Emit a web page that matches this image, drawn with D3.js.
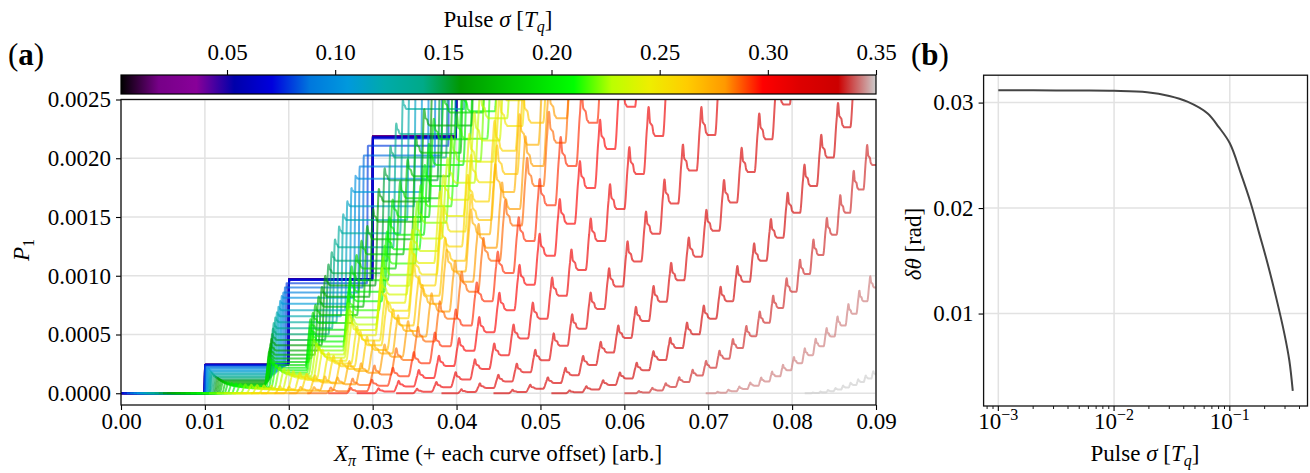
<!DOCTYPE html>
<html>
<head>
<meta charset="utf-8">
<script src="https://cdn.jsdelivr.net/npm/d3@7"></script>
<style>
  html, body { margin: 0; padding: 0; background: #fff; }
  svg text { font-family: "Liberation Serif", "Times New Roman", serif; fill: #000; }
</style>
</head>
<body>
<svg id="fig" width="1310" height="473"></svg>
<script>
// ---------------- data: panel (a), one entry per simulated pulse width ----------------
const pulseSigma = [0.0010,0.0081,0.0152,0.0224,0.0295,0.0366,0.0437,0.0509,0.0580,0.0651,
  0.0722,0.0793,0.0865,0.0936,0.1007,0.1078,0.1150,0.1221,0.1292,0.1363,
  0.1434,0.1506,0.1577,0.1648,0.1719,0.1791,0.1862,0.1933,0.2004,0.2075,
  0.2147,0.2218,0.2289,0.2360,0.2432,0.2503,0.2574,0.2645,0.2716,0.2788,
  0.2859,0.2930,0.3001,0.3073,0.3144,0.3215,0.3286,0.3357,0.3429,0.3500];
// leakage angle added coherently by each pulse [rad]
const pulseAngle = [0.03120,0.03120,0.03119,0.03118,0.03117,0.03117,0.03116,0.03115,0.03113,0.03110,
  0.03105,0.0306,0.0300,0.0293,0.0285,0.0276,0.0266,0.0256,0.0246,0.0235,
  0.0224,0.0213,0.0202,0.0191,0.0181,0.0172,0.0163,0.0155,0.0147,0.0140,
  0.0133,0.0127,0.0121,0.0116,0.0111,0.0106,0.0101,0.0096,0.0092,0.0088,
  0.0084,0.0080,0.0076,0.0072,0.0067,0.0062,0.0056,0.0049,0.0040,0.0028];
// spacing between consecutive pulses on the time axis
const pulsePeriod = [0.0100,0.0100,0.0100,0.0100,0.0100,0.0100,0.0100,0.0100,0.0100,0.0100,
  0.0100,0.0097,0.0094,0.0091,0.0088,0.0085,0.0082,0.0079,0.0076,0.0073,
  0.0070,0.0067,0.0064,0.0061,0.0058,0.0055,0.0052,0.0049,0.0047,0.0045,
  0.0043,0.0041,0.0039,0.0037,0.0035,0.0034,0.0032,0.0031,0.0029,0.0028,
  0.0026,0.0025,0.0024,0.0023,0.0022,0.0021,0.0020,0.0016,0.0013,0.0009];
// centre of the first pulse (includes the per-curve offset)
const firstPulse = [0.0100,0.0100,0.0100,0.0100,0.0100,0.0100,0.0100,0.0100,0.0100,0.0100,
  0.0100,0.0100,0.0101,0.0102,0.0103,0.0104,0.0105,0.0106,0.0107,0.0108,
  0.0110,0.0112,0.0114,0.0116,0.0118,0.0120,0.0123,0.0126,0.0130,0.0135,
  0.0140,0.0146,0.0153,0.0160,0.0168,0.0177,0.0187,0.0198,0.0212,0.0228,
  0.0248,0.0272,0.0305,0.0351,0.0404,0.0465,0.0533,0.0616,0.0710,0.0824];
// transient overshoot during a pulse, in units of one pulse's angle
const overshoot = [0,0,0,0,0,0,0,0,0,0,
  0,0,0,0,0.02,0.03,0.04,0.05,0.065,0.08,
  0.095,0.11,0.13,0.15,0.17,0.19,0.21,0.24,0.27,0.30,
  0.33,0.36,0.40,0.43,0.47,0.50,0.54,0.57,0.60,0.63,
  0.66,0.68,0.70,0.72,0.74,0.75,0.76,0.77,0.78,0.78];
// duration of the transient on the time axis
const transientWidth = [0.0003,0.0003,0.0003,0.0003,0.0003,0.0003,0.0003,0.0003,0.0003,0.0003,
  0.0003,0.0004,0.0005,0.0006,0.0007,0.0008,0.0009,0.0010,0.0011,0.0012,
  0.0013,0.0014,0.0015,0.0016,0.0017,0.0018,0.0019,0.0020,0.0021,0.0022,
  0.0023,0.0023,0.0024,0.0024,0.0024,0.0024,0.0024,0.0024,0.0023,0.0023,
  0.0022,0.0022,0.0021,0.0020,0.0019,0.0019,0.0018,0.0015,0.0012,0.0008];

// ---------------- data: panel (b) ----------------
const sweepSigma = [0.001,0.002,0.005,0.01,0.0193,0.03,0.043,0.064,0.08,0.1,
  0.1245,0.152,0.1795,0.212,0.2506,0.296,0.3266,0.35];
const sweepDelta = [0.03117,0.03116,0.03114,0.03111,0.03098,0.03063,0.03009,0.02899,0.0277,0.02614,
  0.02329,0.02044,0.0176,0.01475,0.01158,0.0081,0.00557,0.00266];

// ---------------- ticks ----------------
const timeTicks = [0,0.01,0.02,0.03,0.04,0.05,0.06,0.07,0.08,0.09];
const p1Ticks = [0,0.0005,0.0010,0.0015,0.0020,0.0025];
const cbarTicks = [0.05,0.10,0.15,0.20,0.25,0.30,0.35];
const deltaTicks = [0.01,0.02,0.03];
const sigmaDecades = [-3,-2,-1];

// ---------------- nipy_spectral colormap ----------------
const NS_R = [0,0.4667,0.5333,0,0,0,0,0,0,0,0,0,0,0.7333,0.9333,1,1,1,0.8667,0.8,0.8];
const NS_G = [0,0,0,0,0,0.4667,0.6,0.6667,0.6667,0.6,0.7333,0.8667,1,1,0.9333,0.8,0.6,0,0,0,0.8];
const NS_B = [0,0.5333,0.6,0.6667,0.8667,0.8667,0.8667,0.6667,0.5333,0,0,0,0,0,0,0,0,0,0,0,0.8];
function spectral(t) {
  t = Math.max(0, Math.min(1, t));
  const s = t / 0.05, i = Math.min(19, Math.floor(s)), u = s - i;
  const c = a => a[i] + (a[i + 1] - a[i]) * u;
  return d3.rgb(c(NS_R) * 255, c(NS_G) * 255, c(NS_B) * 255).formatHex();
}

const FONT = "Liberation Serif, Times New Roman, serif";
const FS = 23;
const svg = d3.select("#fig");
const GRID = "#e2e2e2";

// ===================== panel (a) =====================
const PA = { left: 121, right: 876, top: 99.5, bottom: 405 };
const xA = d3.scaleLinear().domain([0, 0.09]).range([PA.left, PA.right]);
const yA = d3.scaleLinear().domain([-0.0001, 0.0025]).range([PA.bottom, PA.top]);

const gA = svg.append("g");
gA.append("g").selectAll("line").data(timeTicks).join("line")
  .attr("x1", d => xA(d)).attr("x2", d => xA(d))
  .attr("y1", PA.top).attr("y2", PA.bottom)
  .attr("stroke", GRID).attr("stroke-width", 1.5);
gA.append("g").selectAll("line").data(p1Ticks).join("line")
  .attr("y1", d => yA(d)).attr("y2", d => yA(d))
  .attr("x1", PA.left).attr("x2", PA.right)
  .attr("stroke", GRID).attr("stroke-width", 1.5);

svg.append("defs").append("clipPath").attr("id", "clipA")
  .append("rect").attr("x", PA.left).attr("y", PA.top)
  .attr("width", PA.right - PA.left).attr("height", PA.bottom - PA.top);

// shape of one pulse: smooth step plus a transient bump (peak, shoulder, settle)
function smooth(t) { t = Math.max(0, Math.min(1, t)); return t * t * (3 - 2 * t); }
function ramp(z) { return smooth((z + 0.2) / 0.28); }
const bumpKnots = [[-0.2, 0], [0, 0.55], [0.1, 1], [0.19, 0.45], [0.3, 0.38], [0.4, 0.08], [0.5, 0]];
function bump(z) {
  const last = bumpKnots[bumpKnots.length - 1][0];
  if (z <= bumpKnots[0][0] || z >= last) return 0;
  for (let i = 0; i < bumpKnots.length - 1; i++) {
    const a = bumpKnots[i], b = bumpKnots[i + 1];
    if (z <= b[0]) return a[1] + (b[1] - a[1]) * smooth((z - a[0]) / (b[0] - a[0]));
  }
  return 0;
}

function leakageCurve(k) {
  const p = pulsePeriod[k], f = firstPulse[k], w = transientWidth[k], q = overshoot[k];
  const half = pulseAngle[k] / 2;
  const x0 = Math.max(0, f - p);
  const pts = [];
  const dx = 0.00003;
  for (let x = x0; x <= 0.09 + 1e-9; x += dx) {
    const done = Math.max(0, Math.floor((x - 0.5 * w - f) / p) + 1);
    let amp = done;
    for (let n = done; ; n++) {
      const z = (x - (f + n * p)) / w;
      if (z < -0.2) break;
      amp += ramp(z) + q * bump(z);
    }
    pts.push([x, Math.pow(Math.sin(half * amp), 2)]);
    if (Math.pow(Math.sin(half * done), 2) > 0.0027) break;
  }
  return pts;
}

const lineA = d3.line().x(d => xA(d[0])).y(d => yA(d[1]));
const curvesG = gA.append("g").attr("clip-path", "url(#clipA)");
pulseSigma.forEach((s, k) => {
  curvesG.append("path")
    .attr("d", lineA(leakageCurve(k)))
    .attr("fill", "none")
    .attr("stroke", spectral((s - 0.001) / (0.35 - 0.001)))
    .attr("stroke-opacity", 0.65)
    .attr("stroke-width", 2)
    .attr("stroke-linejoin", "round");
});

function styleAxis(g) {
  g.attr("font-family", FONT).attr("font-size", FS);
  g.select(".domain").remove();
  g.selectAll(".tick line").attr("stroke", "#000").attr("stroke-width", 1.1);
  g.selectAll(".tick text").attr("fill", "#000");
}
gA.append("g").attr("transform", `translate(0,${PA.bottom})`)
  .call(d3.axisBottom(xA).tickValues(timeTicks).tickFormat(d3.format(".2f")).tickSize(5).tickPadding(3))
  .call(styleAxis);
gA.append("g").attr("transform", `translate(${PA.left},0)`)
  .call(d3.axisLeft(yA).tickValues(p1Ticks).tickFormat(d3.format(".4f")).tickSize(5).tickPadding(5))
  .call(styleAxis);
gA.append("rect").attr("x", PA.left).attr("y", PA.top)
  .attr("width", PA.right - PA.left).attr("height", PA.bottom - PA.top)
  .attr("fill", "none").attr("stroke", "#111").attr("stroke-width", 1.3);

// colour bar
const CB = { left: 121, right: 876, top: 75, bottom: 94 };
const grad = svg.select("defs").append("linearGradient").attr("id", "nipy")
  .attr("x1", "0%").attr("x2", "100%").attr("y1", "0%").attr("y2", "0%");
d3.range(0, 101, 1).forEach(i => {
  grad.append("stop").attr("offset", i + "%").attr("stop-color", spectral(i / 100));
});
svg.append("rect").attr("x", CB.left).attr("y", CB.top)
  .attr("width", CB.right - CB.left).attr("height", CB.bottom - CB.top)
  .attr("fill", "url(#nipy)").attr("stroke", "#000").attr("stroke-width", 1.2);
const xCB = d3.scaleLinear().domain([0.001, 0.35]).range([CB.left, CB.right]);
svg.append("g").attr("transform", `translate(0,${CB.top})`)
  .call(d3.axisTop(xCB).tickValues(cbarTicks).tickFormat(d3.format(".2f")).tickSize(5).tickPadding(10))
  .call(styleAxis);

// labels of panel (a)
function sigmaLabel(x, y) {
  const t = svg.append("text").attr("x", x).attr("y", y)
    .attr("text-anchor", "middle").attr("font-size", FS);
  t.append("tspan").text("Pulse ");
  t.append("tspan").attr("font-style", "italic").text("σ");
  t.append("tspan").text(" [");
  t.append("tspan").attr("font-style", "italic").text("T");
  t.append("tspan").attr("font-style", "italic").attr("font-size", 16).attr("dy", 5).text("q");
  t.append("tspan").attr("dy", -5).text("]");
}
sigmaLabel(498, 27);

const xLabA = svg.append("text").attr("x", 498).attr("y", 461)
  .attr("text-anchor", "middle").attr("font-size", FS);
xLabA.append("tspan").attr("font-style", "italic").text("X");
xLabA.append("tspan").attr("font-style", "italic").attr("font-size", 16).attr("dy", 5).text("π");
xLabA.append("tspan").attr("dy", -5).text(" Time (+ each curve offset) [arb.]");

const yLabA = svg.append("text").attr("transform", "translate(29,250) rotate(-90)")
  .attr("text-anchor", "middle").attr("font-size", FS);
yLabA.append("tspan").attr("font-style", "italic").text("P");
yLabA.append("tspan").attr("font-size", 16).attr("dy", 5).text("1");

function panelTag(x, letter) {
  const t = svg.append("text").attr("x", x).attr("y", 65).attr("font-size", 31);
  t.append("tspan").text("(");
  t.append("tspan").attr("font-weight", "bold").text(letter);
  t.append("tspan").text(")");
}
panelTag(8, "a");
panelTag(911, "b");

// ===================== panel (b) =====================
const PB = { left: 983.6, right: 1307.5, top: 75.2, bottom: 406 };
const lx = sweepSigma.map(Math.log10);
const lxMin = d3.min(lx), lxMax = d3.max(lx), lxPad = 0.05 * (lxMax - lxMin);
const yMin = d3.min(sweepDelta), yMax = d3.max(sweepDelta), yPad = 0.05 * (yMax - yMin);
const xB = d3.scaleLog().domain([Math.pow(10, lxMin - lxPad), Math.pow(10, lxMax + lxPad)]).range([PB.left, PB.right]);
const yB = d3.scaleLinear().domain([yMin - yPad, yMax + yPad]).range([PB.bottom, PB.top]);

const gB = svg.append("g");
gB.append("g").selectAll("line").data(sigmaDecades).join("line")
  .attr("x1", d => xB(Math.pow(10, d))).attr("x2", d => xB(Math.pow(10, d)))
  .attr("y1", PB.top).attr("y2", PB.bottom).attr("stroke", GRID).attr("stroke-width", 1.5);
gB.append("g").selectAll("line").data(deltaTicks).join("line")
  .attr("y1", d => yB(d)).attr("y2", d => yB(d))
  .attr("x1", PB.left).attr("x2", PB.right).attr("stroke", GRID).attr("stroke-width", 1.5);

gB.append("path")
  .datum(sweepSigma.map((s, i) => [s, sweepDelta[i]]))
  .attr("d", d3.line().x(d => xB(d[0])).y(d => yB(d[1])).curve(d3.curveCatmullRom.alpha(0.5)))
  .attr("fill", "none").attr("stroke", "#444").attr("stroke-width", 2);

gB.append("g").attr("transform", `translate(${PB.left},0)`)
  .call(d3.axisLeft(yB).tickValues(deltaTicks).tickFormat(d3.format(".2f")).tickSize(5).tickPadding(5))
  .call(styleAxis);

// log x axis: major ticks with powers of ten, minor ticks in between
const [dLo, dHi] = xB.domain();
const minor = [];
for (let e = -4; e <= 0; e++) for (let m = 2; m <= 9; m++) {
  const v = m * Math.pow(10, e);
  if (v >= dLo && v <= dHi) minor.push(v);
}
gB.append("g").selectAll("line").data(minor).join("line")
  .attr("x1", d => xB(d)).attr("x2", d => xB(d))
  .attr("y1", PB.bottom).attr("y2", PB.bottom + 3)
  .attr("stroke", "#000").attr("stroke-width", 0.9);
gB.append("g").selectAll("line").data(sigmaDecades).join("line")
  .attr("x1", d => xB(Math.pow(10, d))).attr("x2", d => xB(Math.pow(10, d)))
  .attr("y1", PB.bottom).attr("y2", PB.bottom + 5)
  .attr("stroke", "#000").attr("stroke-width", 1.1);
sigmaDecades.forEach(d => {
  const t = gB.append("text").attr("x", xB(Math.pow(10, d))).attr("y", 429)
    .attr("text-anchor", "middle").attr("font-size", FS);
  t.append("tspan").text("10");
  t.append("tspan").attr("font-size", 16).attr("dy", -9).text("−" + Math.abs(d));
});

gB.append("rect").attr("x", PB.left).attr("y", PB.top)
  .attr("width", PB.right - PB.left).attr("height", PB.bottom - PB.top)
  .attr("fill", "none").attr("stroke", "#111").attr("stroke-width", 1.3);

sigmaLabel(1145, 461);

const yLabB = svg.append("text").attr("transform", "translate(921,244) rotate(-90)")
  .attr("text-anchor", "middle").attr("font-size", FS);
yLabB.append("tspan").attr("font-style", "italic").text("δθ");
yLabB.append("tspan").text(" [rad]");
</script>
</body>
</html>
